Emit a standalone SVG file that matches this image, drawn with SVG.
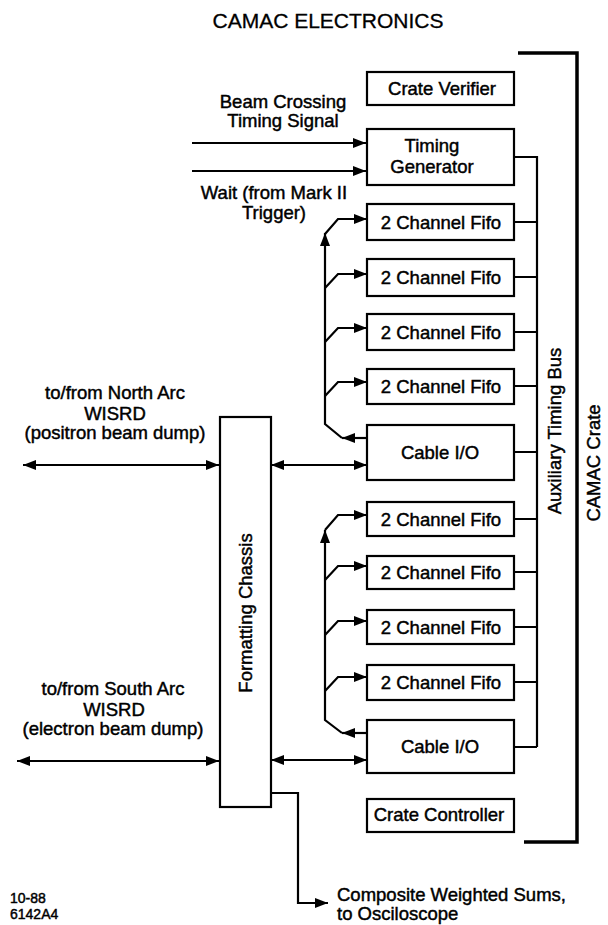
<svg xmlns="http://www.w3.org/2000/svg" width="608" height="925" viewBox="0 0 608 925">
<style>
  text { font-family: "Liberation Sans", Arial, Helvetica, sans-serif; font-size: 18.5px; fill: #000; stroke: #000; stroke-width: 0.45px; }
  .mid { text-anchor: middle; }
  .title { font-size: 21px; stroke-width: 0.3px; }
  .small { font-size: 14px; }
  .box { fill: #fff; stroke: #000; stroke-width: 2.2; }
  .ln { fill: none; stroke: #000; stroke-width: 2.2; }
  .arr { marker-end: url(#ah); }
  .dbl { marker-start: url(#ah); marker-end: url(#ah); }
  .bracket { fill: none; stroke: #000; stroke-width: 3.5; }
</style>
<defs>
  <marker id="ah" viewBox="0 0 13 10" refX="13" refY="5" markerWidth="13" markerHeight="10" markerUnits="userSpaceOnUse" orient="auto-start-reverse">
    <path d="M0,0 L13,5 L0,10 z" fill="#000"/>
  </marker>
</defs>
<rect width="608" height="925" fill="#fff"/>

<text class="title mid" x="328" y="28">CAMAC ELECTRONICS</text>

<g id="connectors">
  <path class="ln arr" d="M192,143 H366"/>
  <path class="ln arr" d="M192,171 H366"/>
  <path class="ln" d="M514,157 H537 V747"/>
  <path class="ln" d="M514,222 H537 M514,277 H537 M514,332 H537 M514,386 H537 M514,452 H537 M514,519 H537 M514,572 H537 M514,627 H537 M514,682 H537 M514,747 H537"/>
  <!-- group 1 -->
  <path class="ln arr" d="M367,438 H342"/>
  <path class="ln arr" d="M342,438 L325,424 V233"/>
  <path class="ln arr" d="M325,234 L338,219 H367"/>
  <path class="ln arr" d="M325,288 L338,274 H367"/>
  <path class="ln arr" d="M325,342 L338,328 H367"/>
  <path class="ln arr" d="M325,396 L338,382 H367"/>
  <!-- group 2 -->
  <path class="ln arr" d="M367,733 H342"/>
  <path class="ln arr" d="M342,733 L325,720 V530"/>
  <path class="ln arr" d="M325,530 L338,515 H367"/>
  <path class="ln arr" d="M325,580 L338,566 H367"/>
  <path class="ln arr" d="M325,635 L338,621 H367"/>
  <path class="ln arr" d="M325,691 L338,677 H367"/>
  <!-- chassis links -->
  <path class="ln dbl" d="M23,465 H219"/>
  <path class="ln dbl" d="M271,465 H367"/>
  <path class="ln dbl" d="M17,761 H219"/>
  <path class="ln dbl" d="M271,760 H367"/>
  <path class="ln arr" d="M271,793 H298 V903 H328"/>
</g>

<path class="bracket" d="M518,53 H577 V842 H524"/>

<g id="crate-verifier"><rect class="box" x="367" y="72" width="147" height="33"/><text class="mid" x="442" y="95">Crate Verifier</text></g>
<g id="timing-generator"><rect class="box" x="367" y="129" width="147" height="56"/><text class="mid" x="432" y="152">Timing</text><text class="mid" x="432" y="173">Generator</text></g>
<g id="fifo1"><rect class="box" x="367" y="204" width="147" height="36"/><text class="mid" x="441" y="229">2 Channel Fifo</text></g>
<g id="fifo2"><rect class="box" x="367" y="259" width="147" height="37"/><text class="mid" x="441" y="284">2 Channel Fifo</text></g>
<g id="fifo3"><rect class="box" x="367" y="314" width="147" height="36"/><text class="mid" x="441" y="339">2 Channel Fifo</text></g>
<g id="fifo4"><rect class="box" x="367" y="369" width="147" height="35"/><text class="mid" x="441" y="393">2 Channel Fifo</text></g>
<g id="cable-io-1"><rect class="box" x="367" y="425" width="147" height="55"/><text class="mid" x="440" y="459">Cable I/O</text></g>
<g id="fifo5"><rect class="box" x="367" y="502" width="147" height="34"/><text class="mid" x="441" y="526">2 Channel Fifo</text></g>
<g id="fifo6"><rect class="box" x="367" y="556" width="147" height="33"/><text class="mid" x="441" y="579">2 Channel Fifo</text></g>
<g id="fifo7"><rect class="box" x="367" y="610" width="147" height="34"/><text class="mid" x="441" y="634">2 Channel Fifo</text></g>
<g id="fifo8"><rect class="box" x="367" y="665" width="147" height="35"/><text class="mid" x="441" y="689">2 Channel Fifo</text></g>
<g id="cable-io-2"><rect class="box" x="367" y="720" width="147" height="53"/><text class="mid" x="440" y="753">Cable I/O</text></g>
<g id="crate-controller"><rect class="box" x="367" y="799" width="147" height="33"/><text class="mid" x="439" y="821">Crate Controller</text></g>
<g id="formatting-chassis"><rect class="box" x="220" y="417" width="51" height="390"/><text class="mid" transform="translate(252,613) rotate(-90)">Formatting Chassis</text></g>

<g id="labels">
  <text class="mid" x="283" y="108">Beam Crossing</text>
  <text class="mid" x="283" y="127">Timing Signal</text>
  <text class="mid" x="274" y="199">Wait (from Mark II</text>
  <text class="mid" x="274" y="219">Trigger)</text>
  <text class="mid" x="115" y="399">to/from North Arc</text>
  <text class="mid" x="115" y="420">WISRD</text>
  <text class="mid" x="115" y="439">(positron beam dump)</text>
  <text class="mid" x="113" y="695">to/from South Arc</text>
  <text class="mid" x="114" y="716">WISRD</text>
  <text class="mid" x="113" y="735">(electron beam dump)</text>
  <text x="337" y="901">Composite Weighted Sums,</text>
  <text x="337" y="920">to Osciloscope</text>
  <text class="small" x="10" y="903">10-88</text>
  <text class="small" x="10" y="919">6142A4</text>
  <text class="mid" transform="translate(561,431) rotate(-90)">Auxiliary Timing Bus</text>
  <text class="mid" transform="translate(600,463) rotate(-90)">CAMAC Crate</text>
</g>
</svg>
